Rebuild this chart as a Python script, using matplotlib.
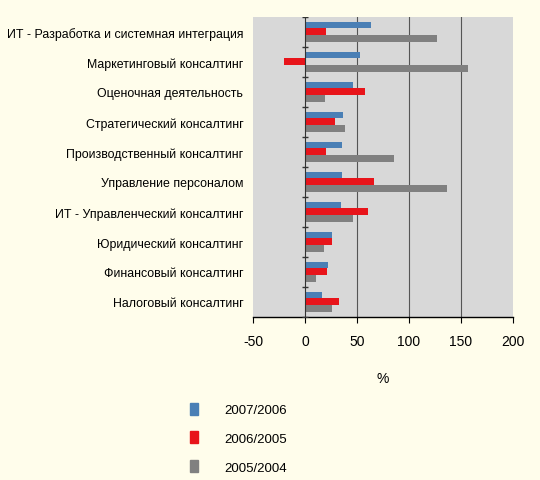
import numpy as np
import matplotlib.pyplot as plt
from matplotlib.patches import Patch

# categories, top to bottom
categories = [
    'ИТ - Разработка и системная интеграция',
    'Маркетинговый консалтинг',
    'Оценочная деятельность',
    'Стратегический консалтинг',
    'Производственный консалтинг',
    'Управление персоналом',
    'ИТ - Управленческий консалтинг',
    'Юридический консалтинг',
    'Финансовый консалтинг',
    'Налоговый консалтинг',
]
series_names = ['2007/2006', '2006/2005', '2005/2004']
growth_0706 = [63, 53, 46, 37, 36, 36, 35, 26, 22, 16]
growth_0605 = [20, -20, 58, 29, 20, 66, 61, 26, 21, 33]
growth_0504 = [127, 157, 19, 38, 86, 137, 46, 18, 11, 26]
xticks = [-50, 0, 50, 100, 150, 200]

colors = ['#4a7fb5', '#e8141a', '#808080']
bg = '#fffdeb'
plt.rcParams['font.family'] = ['Liberation Sans Narrow', 'Liberation Sans', 'DejaVu Sans']

fig = plt.figure(figsize=(5.4, 4.81), dpi=100, facecolor=bg)
ax = fig.add_axes([0.4685, 0.339, 0.4815, 0.6237])
ax.set_facecolor('#d8d8d8')

n = len(categories)
y = np.arange(n)
h = 0.23
for i, vals in enumerate([growth_0706, growth_0605, growth_0504]):
    ax.barh(y + (i - 1) * h, vals, height=h, color=colors[i], zorder=3)

ax.set_ylim(n - 0.5, -0.5)
ax.set_xlim(-50, 200)
ax.set_xticks(xticks)
ax.set_xticklabels([str(t) for t in xticks], fontsize=10)
for t in [50, 100, 150]:
    ax.axvline(t, color='#555555', lw=0.8, zorder=1)
ax.axvline(0, color='#333333', lw=0.8, zorder=4)
ax.plot([0] * (n + 1), np.arange(n + 1) - 0.5, ls='none', marker='_',
        color='#333333', ms=4, zorder=4)

ax.set_yticks(y)
ax.set_yticklabels(categories, fontsize=8.9)
ax.tick_params(axis='y', length=0, pad=7)
ax.tick_params(axis='x', length=4, width=0.8, pad=8)
for s in ['left', 'right', 'top']:
    ax.spines[s].set_visible(False)
ax.spines['bottom'].set_linewidth(1.0)
ax.set_xlabel('%', fontsize=10, labelpad=17)

handles = [Patch(color=c) for c in colors]
fig.legend(handles, series_names, loc='upper left', bbox_to_anchor=(0.33, 0.185),
           frameon=False, fontsize=9.5, handlelength=0.6, handleheight=1.0,
           labelspacing=1.15, handletextpad=2.0)

fig.savefig('out.png', dpi=100, facecolor=bg)
